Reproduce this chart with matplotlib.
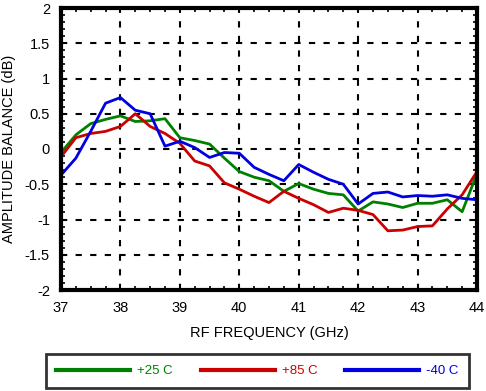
import numpy as np
import matplotlib
matplotlib.use("Agg")
import matplotlib.pyplot as plt
from matplotlib.ticker import MultipleLocator

plt.rcParams["font.family"] = ["Liberation Sans", "DejaVu Sans"]

freq = np.arange(37.0, 44.01, 0.25)

amp_25 = [-0.05, 0.20, 0.36, 0.42, 0.47, 0.39, 0.40, 0.43, 0.16, 0.12, 0.07, -0.13,
          -0.32, -0.40, -0.45, -0.60, -0.49, -0.57, -0.63, -0.65, -0.88, -0.75,
          -0.78, -0.83, -0.77, -0.77, -0.72, -0.89, -0.35]
amp_85 = [-0.11, 0.16, 0.22, 0.25, 0.32, 0.50, 0.32, 0.22, 0.08, -0.17, -0.24, -0.48,
          -0.57, -0.67, -0.76, -0.60, -0.70, -0.79, -0.90, -0.84, -0.87, -0.93,
          -1.16, -1.15, -1.10, -1.09, -0.85, -0.65, -0.32]
amp_m40 = [-0.37, -0.13, 0.25, 0.65, 0.73, 0.55, 0.50, 0.04, 0.11, 0.02, -0.12, -0.05,
           -0.06, -0.26, -0.36, -0.45, -0.22, -0.33, -0.43, -0.50, -0.78, -0.63,
           -0.61, -0.68, -0.66, -0.67, -0.65, -0.70, -0.72]

fig = plt.figure(figsize=(4.86, 3.91), dpi=100)
ax = fig.add_axes([61 / 486, 1 - 290 / 391, 416 / 486, 282 / 391])

ax.plot(freq, amp_25, color="#008000", lw=2, label="+25 C")
ax.plot(freq, amp_85, color="#cc0000", lw=2, label="+85 C")
ax.plot(freq, amp_m40, color="#0000e0", lw=2, label="-40 C")

ax.set_xlim(37, 44)
ax.set_ylim(-2, 2)
ax.xaxis.set_major_locator(MultipleLocator(1))
ax.xaxis.set_minor_locator(MultipleLocator(0.25))
ax.yaxis.set_major_locator(MultipleLocator(0.5))
ax.yaxis.set_minor_locator(MultipleLocator(0.1))
ax.yaxis.set_major_formatter(plt.FuncFormatter(lambda v, p: f"{v:g}"))
ax.tick_params(which="both", direction="in", top=True, right=True, labelsize=10.5)
ax.tick_params(which="major", length=0, pad=8)
ax.tick_params(which="minor", length=3, width=1.2)
ax.grid(True, which="major", color="black", linestyle=(0, (3, 4)), linewidth=1.5)
for s in ax.spines.values():
    s.set_linewidth(3)

ax.set_xlabel("RF FREQUENCY (GHz)", fontsize=10.5, labelpad=8)
ax.set_ylabel("AMPLITUDE BALANCE (dB)", fontsize=10.5, labelpad=6)

leg = fig.legend(loc="center", bbox_to_anchor=(257.5 / 486, 1 - 371 / 391), ncol=3,
                 fontsize=9.5, frameon=True, fancybox=False, handlelength=5.6,
                 columnspacing=2.1, handletextpad=0.55, labelcolor="linecolor",
                 borderpad=0.8, borderaxespad=0)
leg.get_frame().set_edgecolor("black")
leg.get_frame().set_linewidth(2)
for line in leg.get_lines():
    line.set_linewidth(3)

fig.savefig("out.png", dpi=100)
